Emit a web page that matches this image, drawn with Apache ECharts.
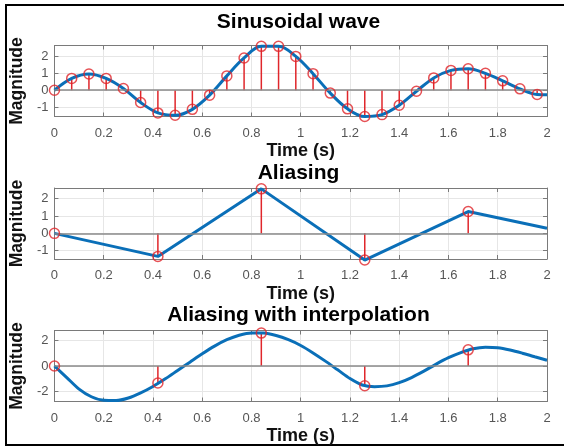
<!DOCTYPE html>
<html>
<head>
<meta charset="utf-8">
<script src="https://cdn.jsdelivr.net/npm/echarts@6/dist/echarts.min.js"></script>
<style>
	html, body { margin: 0; padding: 0; background: #fff; }
	#chart { width: 564px; height: 447px; }
</style>
</head>
<body>
<div id="chart"></div>
<script>
	// samples of the sinusoidal wave (stems)
	var sampleTime = [0, 0.07, 0.14, 0.21, 0.28, 0.35, 0.42, 0.49, 0.56, 0.63, 0.70, 0.77, 0.84, 0.91, 0.98,
		1.05, 1.12, 1.19, 1.26, 1.33, 1.40, 1.47, 1.54, 1.61, 1.68, 1.75, 1.82, 1.89, 1.96]
	var sampleValue = [0, 0.69, 0.95, 0.69, 0.1, -0.72, -1.33, -1.47, -1.12, -0.29, 0.84, 1.89, 2.57, 2.57, 1.98,
		0.97, -0.17, -1.09, -1.54, -1.43, -0.88, -0.06, 0.72, 1.16, 1.26, 0.99, 0.55, 0.08, -0.25]
	// blue curve in the first panel: the samples plus the end point at t = 2
	var waveEndTime = 2
	var waveEndValue = -0.27

	// every 6th sample (aliasing)
	var aliasTime = [0, 0.42, 0.84, 1.26, 1.68]
	var aliasValue = [0, -1.33, 2.57, -1.54, 1.26]
	var aliasLineTime = [0, 0.42, 0.84, 1.26, 1.68, 2]
	var aliasLineValue = [0, -1.33, 2.57, -1.54, 1.26, 0.3]

	// interpolated curve of the third panel
	var interpTime = [0, 0.05, 0.1, 0.15, 0.2, 0.25, 0.3, 0.35, 0.4, 0.45, 0.5, 0.55, 0.6, 0.65, 0.7, 0.75,
		0.8, 0.85, 0.9, 0.95, 1.0, 1.05, 1.1, 1.15, 1.2, 1.25, 1.3, 1.35, 1.4, 1.45, 1.5, 1.55, 1.6, 1.65,
		1.7, 1.75, 1.8, 1.85, 1.9, 1.95, 2.0]
	var interpValue = [0, -0.9, -1.8, -2.4, -2.68, -2.7, -2.5, -2.1, -1.6, -1.0, -0.35, 0.3, 0.95, 1.55,
		2.05, 2.4, 2.58, 2.57, 2.38, 2.05, 1.6, 1.02, 0.38, -0.3, -0.98, -1.48, -1.61, -1.55, -1.3, -0.9,
		-0.4, 0.15, 0.65, 1.05, 1.35, 1.47, 1.43, 1.25, 1.0, 0.72, 0.45]

	// tick labels
	var xTicks = [0, 0.2, 0.4, 0.6, 0.8, 1, 1.2, 1.4, 1.6, 1.8, 2]
	var yTicksTop = [-1, 0, 1, 2]
	var yTicksBottom = [-2, 0, 2]

	var titles = ['Sinusoidal wave', 'Aliasing', 'Aliasing with interpolation']

	var font = "'Liberation Sans', Arial, sans-serif"
	var blue = '#0a6fb8'
	var red = '#e0262b'
	var axisGray = '#7a7a7a'
	var gridTop = [45.5, 188, 330.5]
	var titleY = [22, 173.5, 315]
	var gridH = 71
	var gridLeft = 50
	var gridRight = 17

	function pairs(xs, ys) {
		return xs.map(function (x, i) { return [x, ys[i]] })
	}

	var grids = [], xAxes = [], yAxes = [], series = [], graphics = []
	var yRange = [[-1.54, 2.62], [-1.48, 2.62], [-2.77, 2.77]]

	for (var i = 0; i < 3; i++) {
		grids.push({ left: gridLeft, right: gridRight, top: gridTop[i], height: gridH })
		// bottom x axis with labels, top one only for ticks (box like matlab)
		xAxes.push({
			type: 'value', gridIndex: i, min: 0, max: 2, interval: 0.2, position: 'bottom',
			axisLine: { show: true, onZero: false, lineStyle: { color: axisGray, width: 1 } },
			axisTick: { show: true, inside: true, length: 4, lineStyle: { color: axisGray } },
			axisLabel: { color: '#555', fontSize: 13, fontFamily: font, margin: 10 },
			splitLine: { show: true, lineStyle: { color: '#e6e6e6', width: 1 } },
			name: 'Time (s)', nameLocation: 'middle', nameGap: 26,
			nameTextStyle: { color: '#111', fontSize: 18, fontWeight: 'bold', fontFamily: font }
		})
		xAxes.push({
			type: 'value', gridIndex: i, min: 0, max: 2, interval: 0.2, position: 'top',
			axisLine: { show: true, onZero: false, lineStyle: { color: axisGray, width: 1 } },
			axisTick: { show: true, inside: true, length: 4, lineStyle: { color: axisGray } },
			axisLabel: { show: false }, splitLine: { show: false }
		})
		var ticks = i < 2 ? yTicksTop : yTicksBottom
		yAxes.push({
			type: 'value', gridIndex: i, min: yRange[i][0], max: yRange[i][1], position: 'left',
			axisLine: { show: true, onZero: false, lineStyle: { color: axisGray, width: 1 } },
			axisTick: { show: true, inside: true, length: 4, customValues: ticks, lineStyle: { color: axisGray } },
			axisLabel: { color: '#555', fontSize: 13, fontFamily: font, margin: 6, customValues: ticks },
			splitLine: { show: true, lineStyle: { color: '#e6e6e6', width: 1 } },
			name: 'Magnitude', nameLocation: 'middle', nameGap: 15, nameRotate: 90,
			nameTextStyle: { color: '#111', fontSize: 17.5, fontWeight: 'bold', fontFamily: font }
		})
		yAxes.push({
			type: 'value', gridIndex: i, min: yRange[i][0], max: yRange[i][1], position: 'right',
			axisLine: { show: true, onZero: false, lineStyle: { color: axisGray, width: 1 } },
			axisTick: { show: true, inside: true, length: 4, customValues: ticks, lineStyle: { color: axisGray } },
			axisLabel: { show: false }, splitLine: { show: false }
		})
		graphics.push({
			type: 'text', x: gridLeft + (564 - gridLeft - gridRight) / 2, y: titleY[i],
			style: { text: titles[i], textAlign: 'center', textVerticalAlign: 'middle',
				font: 'bold 21px ' + font, fill: '#000' }
		})
	}

	// the figure frame
	graphics.push({
		type: 'rect', shape: { x: 6, y: 5, width: 600, height: 440 },
		style: { fill: 'rgba(0,0,0,0)', stroke: '#000', lineWidth: 2 }
	})

	// stems drawn through the axes' coordinate system
	function stemSeries(idx, xs, ys) {
		return {
			type: 'custom', xAxisIndex: idx * 2, yAxisIndex: idx * 2, z: 3, clip: false,
			data: pairs(xs, ys),
			renderItem: function (params, api) {
				var p0 = api.coord([api.value(0), 0])
				var p1 = api.coord([api.value(0), api.value(1)])
				return {
					type: 'line', shape: { x1: p0[0], y1: p0[1], x2: p1[0], y2: p1[1] },
					style: { stroke: red, lineWidth: 1.5 }
				}
			},
			markLine: {
				silent: true, symbol: 'none', label: { show: false },
				lineStyle: { color: '#8a8a8a', width: 1.5, type: 'solid' },
				data: [{ yAxis: 0 }]
			}
		}
	}
	function circleSeries(idx, xs, ys) {
		return {
			type: 'scatter', xAxisIndex: idx * 2, yAxisIndex: idx * 2, z: 5, clip: false,
			symbol: 'circle', symbolSize: 10,
			itemStyle: { color: 'rgba(0,0,0,0)', borderColor: red, borderWidth: 1.5 },
			data: pairs(xs, ys)
		}
	}
	function curveSeries(idx, xs, ys, smooth) {
		return {
			type: 'line', xAxisIndex: idx * 2, yAxisIndex: idx * 2, z: 4, clip: false,
			showSymbol: false, smooth: smooth,
			lineStyle: { color: blue, width: 3 },
			data: pairs(xs, ys)
		}
	}

	series.push(stemSeries(0, sampleTime, sampleValue))
	series.push(curveSeries(0, sampleTime.concat([waveEndTime]), sampleValue.concat([waveEndValue]), 0.35))
	series.push(circleSeries(0, sampleTime, sampleValue))

	series.push(stemSeries(1, aliasTime, aliasValue))
	series.push(curveSeries(1, aliasLineTime, aliasLineValue, false))
	series.push(circleSeries(1, aliasTime, aliasValue))

	series.push(stemSeries(2, aliasTime, aliasValue))
	series.push(curveSeries(2, interpTime, interpValue, 0.3))
	series.push(circleSeries(2, aliasTime, aliasValue))

	var myChart = echarts.init(document.getElementById('chart'))
	myChart.setOption({
		animation: false,
		backgroundColor: '#fff',
		grid: grids,
		xAxis: xAxes,
		yAxis: yAxes,
		series: series,
		graphic: graphics
	})
</script>
</body>
</html>
